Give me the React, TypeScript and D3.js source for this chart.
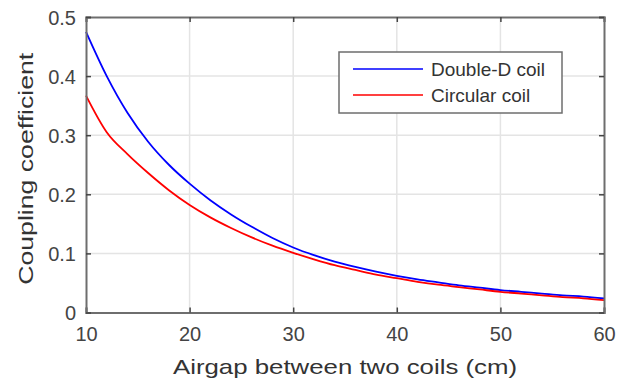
import React, { useEffect, useRef } from 'react';
import * as d3 from 'd3';

// airgap (cm)
const airgap = [10, 12, 14, 16, 18, 20, 22, 24, 26, 28, 30, 32, 34, 36, 38, 40, 42, 44, 46, 48, 50, 52, 54, 56, 58, 60];
const doubleD = [0.475, 0.4, 0.338, 0.289, 0.25, 0.218, 0.19, 0.166, 0.145, 0.126, 0.11, 0.097, 0.086, 0.077, 0.069, 0.062, 0.056, 0.051, 0.046, 0.042, 0.038, 0.035, 0.032, 0.029, 0.027, 0.024];
const circular = [0.367, 0.305, 0.268, 0.236, 0.207, 0.182, 0.161, 0.143, 0.127, 0.113, 0.101, 0.09, 0.08, 0.072, 0.064, 0.058, 0.052, 0.047, 0.043, 0.039, 0.035, 0.032, 0.029, 0.026, 0.024, 0.021];
const seriesNames = ['Double-D coil', 'Circular coil'];
const seriesColors = ['#0000ff', '#ff0000'];
const xTicks = [10, 20, 30, 40, 50, 60];
const yTicks = [0, 0.1, 0.2, 0.3, 0.4, 0.5];

const W = 620;
const H = 383;
const FONT = 'Liberation Sans, Arial, Helvetica, sans-serif';

function Chart() {
  const ref = useRef<SVGSVGElement>(null);

  useEffect(() => {
    const svg = d3.select(ref.current);
    svg.selectAll('*').remove();

    const left = 86, right = 604, top = 17, bottom = 312.5;
    const x = d3.scaleLinear().domain([10, 60]).range([left, right]);
    const y = d3.scaleLinear().domain([0, 0.5]).range([bottom, top]);

    svg.append('rect').attr('width', W).attr('height', H).attr('fill', '#fff');

    // grid
    const grid = svg.append('g').attr('stroke', '#e4e4e4').attr('stroke-width', 1.5);
    grid.selectAll('.gx').data(xTicks.slice(1, -1)).enter().append('line')
      .attr('x1', d => x(d)).attr('x2', d => x(d)).attr('y1', top).attr('y2', bottom);
    grid.selectAll('.gy').data(yTicks.slice(1, -1)).enter().append('line')
      .attr('x1', left).attr('x2', right).attr('y1', d => y(d)).attr('y2', d => y(d));

    // series
    const line = d3.line<number>()
      .x((d, i) => x(airgap[i]))
      .y(d => y(d))
      .curve(d3.curveMonotoneX);
    [doubleD, circular].forEach((vals, k) => {
      svg.append('path')
        .datum(vals)
        .attr('d', line)
        .attr('fill', 'none')
        .attr('stroke', seriesColors[k])
        .attr('stroke-width', 1.8);
    });

    // axes (box with inward ticks)
    const axisColor = '#6e6e6e';
    const axes = svg.append('g');
    const xb = axes.append('g').attr('transform', `translate(0,${bottom})`)
      .call(d3.axisBottom(x).tickValues(xTicks).tickSize(-5).tickPadding(14).tickFormat(d3.format('d')));
    const xt = axes.append('g').attr('transform', `translate(0,${top})`)
      .call(d3.axisTop(x).tickValues(xTicks).tickSize(-5).tickFormat(() => ''));
    const yl = axes.append('g').attr('transform', `translate(${left},0)`)
      .call(d3.axisLeft(y).tickValues(yTicks).tickSize(-5).tickPadding(10).tickFormat(d => (d === 0 ? '0' : d3.format('.1f')(d as number))));
    const yr = axes.append('g').attr('transform', `translate(${right},0)`)
      .call(d3.axisRight(y).tickValues(yTicks).tickSize(-5).tickFormat(() => ''));
    [xb, xt, yl, yr].forEach(g => {
      g.select('.domain').attr('stroke', axisColor).attr('stroke-width', 2);
      g.selectAll('.tick line').attr('stroke', '#444').attr('stroke-width', 1.5);
      g.selectAll('.tick text').attr('fill', '#444').style('font-family', FONT).style('font-size', '20px');
    });
    yl.selectAll('.tick text').attr('dy', '0.36em');

    // axis titles
    svg.append('text')
      .attr('x', (left + right) / 2).attr('y', 374)
      .attr('text-anchor', 'middle')
      .attr('textLength', 344).attr('lengthAdjust', 'spacingAndGlyphs')
      .style('font-family', FONT).style('font-size', '21px').attr('fill', '#333')
      .text('Airgap between two coils (cm)');
    svg.append('text')
      .attr('transform', `translate(33,${(top + bottom) / 2 + 4}) rotate(-90)`)
      .attr('text-anchor', 'middle')
      .attr('textLength', 232).attr('lengthAdjust', 'spacingAndGlyphs')
      .style('font-family', FONT).style('font-size', '21px').attr('fill', '#333')
      .text('Coupling coefficient');

    // legend
    const lg = svg.append('g');
    lg.append('rect').attr('x', 339).attr('y', 52).attr('width', 223).attr('height', 61)
      .attr('fill', '#fff').attr('stroke', '#6e6e6e').attr('stroke-width', 1.5);
    seriesNames.forEach((name, k) => {
      const ly = 69 + k * 26;
      lg.append('line').attr('x1', 353).attr('x2', 423).attr('y1', ly).attr('y2', ly)
        .attr('stroke', seriesColors[k]).attr('stroke-width', 1.5);
      lg.append('text').attr('x', 431).attr('y', ly + 6.5)
        .style('font-family', FONT).style('font-size', '19px').attr('fill', '#333')
        .text(name);
    });
  }, []);

  return <svg ref={ref} width={W} height={H} style={{ position: 'absolute', left: 0, top: 0 }} />;
}

export default function App() {
  return <Chart />;
}
